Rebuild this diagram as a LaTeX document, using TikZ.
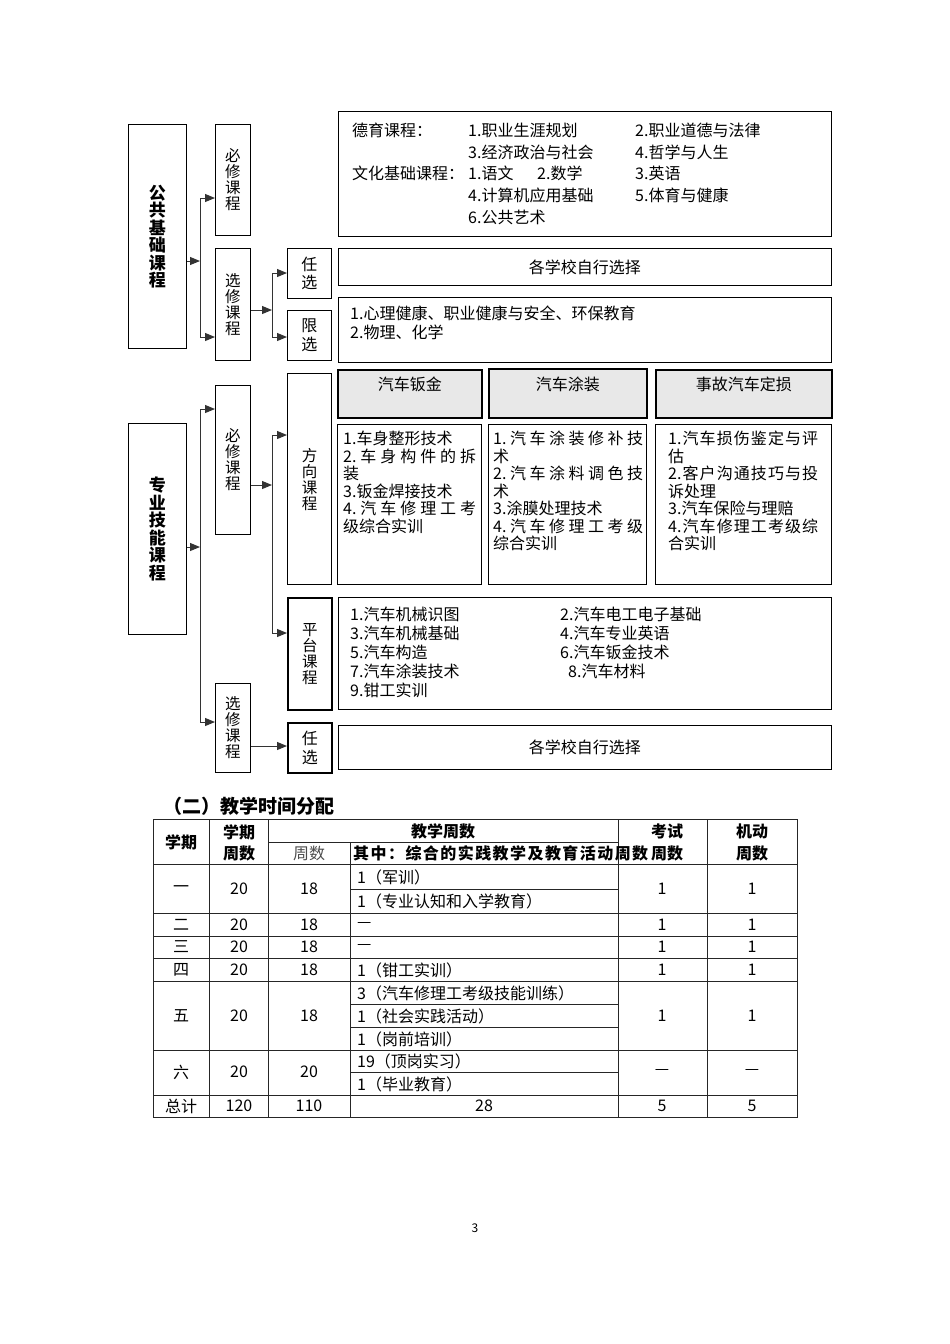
\documentclass[tikz,border=0pt]{standalone}
\usepackage{fontspec}
\setmainfont{Noto Sans CJK SC}
\usetikzlibrary{arrows.meta}
\XeTeXlinebreaklocale "zh"
\XeTeXlinebreakskip=0pt plus 2pt

\tikzset{
  box/.style={draw, line width=0.9pt, inner sep=0pt, anchor=north west},
  vbox/.style={box, align=center, font=\fontsize{15.5}{16}\selectfont},
  tbox/.style={box, font=\fontsize{16}{17}\selectfont},
  hdr/.style={box, fill=gray!18, line width=1.5pt, font=\fontsize{16}{17}\selectfont,
    text height=11pt, text depth=17pt},
  txt/.style={anchor=west, inner sep=0pt, font=\fontsize{16}{17}\selectfont},
  para/.style={anchor=north west, inner sep=0pt, align=justify,
    font=\fontsize{16}{17.5}\selectfont},
  arr/.style={-{Triangle[length=10pt,width=8pt]}, line width=1pt, draw=black!80},
  conn/.style={line width=1pt, draw=black!80},
  tline/.style={line width=0.9pt, draw=black!85},
  cell/.style={inner sep=0pt, font=\fontsize{16}{17}\selectfont},
  hcell/.style={cell, font=\fontsize{16}{17}\selectfont\bfseries}
}

\begin{document}
\begin{tikzpicture}[x=1pt,y=-1pt]
\useasboundingbox (0,0) rectangle (950,1344);

% public basic courses
\node[vbox, minimum width=58, minimum height=224, font=\fontsize{17}{17.5}\selectfont\bfseries] (ggjc) at (128,124) {公\\共\\基\\础\\课\\程};
\node[vbox, minimum width=35, minimum height=111] (bx1) at (215,124) {必\\修\\课\\程};
\node[vbox, minimum width=35, minimum height=112] (xx1) at (215,248) {选\\修\\课\\程};
\node[vbox, minimum width=44, minimum height=50, font=\fontsize{16}{18.5}\selectfont] (rx1) at (287,248) {任\\选};
\node[vbox, minimum width=44, minimum height=50, font=\fontsize{16}{18.5}\selectfont] (lx1) at (287,310) {限\\选};

\node[box, minimum width=493, minimum height=125] (bxc) at (338,111) {};
\node[txt] (dy1) at (352,130) {\makebox[116pt][l]{德育课程：}\makebox[167pt][l]{1.职业生涯规划}2.职业道德与法律};
\node[txt] (dy2) at (468,152) {\makebox[167pt][l]{3.经济政治与社会}4.哲学与人生};
\node[txt] (wh1) at (352,173) {\makebox[116pt][l]{文化基础课程：}\makebox[69pt][l]{1.语文}\makebox[98pt][l]{2.数学}3.英语};
\node[txt] (wh2) at (468,195) {\makebox[167pt][l]{4.计算机应用基础}5.体育与健康};
\node[txt] (wh3) at (468,217) {6.公共艺术};

\node[tbox, minimum width=493, minimum height=37] (rxc1) at (338,248) {各学校自行选择};
\node[box, minimum width=493, minimum height=65] (lxc) at (338,297) {};
\node[txt] (lx1t) at (350,313) {1.心理健康、职业健康与安全、环保教育};
\node[txt] (lx2t) at (350,332) {2.物理、化学};

\coordinate (v1a) at (200,198);
\coordinate (v1b) at (200,337);
\coordinate (v1m) at (200,261);
\draw[arr] (ggjc.east |- v1m) -- (v1m);
\draw[conn] (v1a) -- (v1b);
\draw[arr] (v1a) -- (bx1.west |- v1a);
\draw[arr] (v1b) -- (xx1.west |- v1b);

\coordinate (v2a) at (272,273);
\coordinate (v2b) at (272,337);
\coordinate (v2m) at (272,310);
\draw[arr] (xx1.east |- v2m) -- (v2m);
\draw[conn] (v2a) -- (v2b);
\draw[arr] (v2a) -- (rx1.west |- v2a);
\draw[arr] (v2b) -- (lx1.west |- v2b);

% professional courses
\node[vbox, minimum width=58, minimum height=211, font=\fontsize{17}{17.5}\selectfont\bfseries] (zyjn) at (128,423) {专\\业\\技\\能\\课\\程};
\node[vbox, minimum width=35, minimum height=149] (bx2) at (215,385) {必\\修\\课\\程};
\node[vbox, minimum width=35, minimum height=89] (xx2) at (215,683) {选\\修\\课\\程};
\node[vbox, line width=1.4pt, minimum width=44, minimum height=211] (fx) at (287,373) {方\\向\\课\\程};
\node[vbox, line width=1.6pt, minimum width=44, minimum height=112] (pt) at (287,597) {平\\台\\课\\程};
\node[vbox, line width=1.6pt, minimum width=44, minimum height=50, font=\fontsize{16}{18.5}\selectfont] (rx2) at (287,722) {任\\选};

\node[hdr, minimum width=144, minimum height=48] (h1) at (337,369) {汽车钣金};
\node[hdr, minimum width=158, minimum height=49] (h2) at (488,368) {汽车涂装};
\node[hdr, minimum width=176, minimum height=48] (h3) at (655,369) {事故汽车定损};

\node[box, minimum width=144, minimum height=160] (c1) at (337,424) {};
\node[box, minimum width=158, minimum height=160] (c2) at (488,424) {};
\node[box, minimum width=176, minimum height=160] (c3) at (655,424) {};
\node[para, text width=133pt] (c1t) at (343,431) {1.车身整形技术\\2.车身构件的拆\linebreak 装\\3.钣金焊接技术\\4.汽车修理工考\linebreak 级综合实训};
\node[para, text width=150pt] (c2t) at (493,431) {1.汽车涂装修补技\linebreak 术\\2.汽车涂料调色技\linebreak 术\\3.涂膜处理技术\\4.汽车修理工考级\linebreak 综合实训};
\node[para, text width=150pt] (c3t) at (668,431) {1.汽车损伤鉴定与评\linebreak 估\\2.客户沟通技巧与投\linebreak 诉处理\\3.汽车保险与理赔\\4.汽车修理工考级综\linebreak 合实训};

\node[box, minimum width=493, minimum height=112] (ptc) at (338,597) {};
\node[txt] (pt1) at (350,614) {\makebox[210pt][l]{1.汽车机械识图}2.汽车电工电子基础};
\node[txt] (pt2) at (350,633) {\makebox[210pt][l]{3.汽车机械基础}4.汽车专业英语};
\node[txt] (pt3) at (350,652) {\makebox[210pt][l]{5.汽车构造}6.汽车钣金技术};
\node[txt] (pt4) at (350,671) {\makebox[218pt][l]{7.汽车涂装技术}8.汽车材料};
\node[txt] (pt5) at (350,690) {9.钳工实训};

\node[tbox, minimum width=493, minimum height=44] (rxc2) at (338,725) {各学校自行选择};

\coordinate (v3a) at (200,409);
\coordinate (v3b) at (200,722);
\coordinate (v3m) at (200,547);
\draw[arr] (zyjn.east |- v3m) -- (v3m);
\draw[conn] (v3a) -- (v3b);
\draw[arr] (v3a) -- (bx2.west |- v3a);
\draw[arr] (v3b) -- (xx2.west |- v3b);

\coordinate (v4a) at (272,435);
\coordinate (v4b) at (272,633);
\coordinate (v4m) at (272,485);
\draw[arr] (bx2.east |- v4m) -- (v4m);
\draw[conn] (v4a) -- (v4b);
\draw[arr] (v4a) -- (fx.west |- v4a);
\draw[arr] (v4b) -- (pt.west |- v4b);
\draw[arr] (xx2.east |- 0,746) -- (rx2.west |- 0,746);

% teaching time table
\node[anchor=west, inner sep=0pt, font=\fontsize{19}{21}\selectfont\bfseries] (title) at (163,806) {（二）教学时间分配};

\draw[tline] (153,819) rectangle (797,1117);
\foreach \x in {209,268,618,707} \draw[tline] (\x,819) -- (\x,1117);
\draw[tline] (350,842) -- (350,1117);
\draw[tline] (268,842) -- (618,842);
\foreach \y in {864,913,936,958,981,1050,1095} \draw[tline] (153,\y) -- (797,\y);
\foreach \y in {889,1004,1027,1072} \draw[tline] (350,\y) -- (618,\y);

\node[hcell] (hxq) at (181,842) {学期};
\node[hcell] (hxz1) at (239,832) {学期};
\node[hcell] (hxz2) at (239,853) {周数};
\node[hcell] (hjx) at (443,831) {教学周数};
\node[cell, text=black!70] (hzs) at (309,853) {周数};
\node[hcell, anchor=west, font=\fontsize{16}{17}\selectfont\bfseries\addfontfeature{LetterSpace=9}] (hqz) at (353,853) {其中：综合的实践教学及教育活动周数};
\node[hcell] (hks1) at (667,831) {考试};
\node[hcell] (hks2) at (667,853) {周数};
\node[hcell] (hjd1) at (752,831) {机动};
\node[hcell] (hjd2) at (752,853) {周数};

\node[cell] (r1a) at (181,889) {一};
\node[cell] (r1b) at (239,889) {20};
\node[cell] (r1c) at (309,889) {18};
\node[cell, anchor=west] (r1d) at (357,877) {1（军训）};
\node[cell, anchor=west] (r1e) at (357,901) {1（专业认知和入学教育）};
\node[cell] (r1f) at (662,889) {1};
\node[cell] (r1g) at (752,889) {1};

\foreach \n/\y/\t in {二/925/—, 三/947/—, 四/970/1（钳工实训）} {
  \node[cell] (ra\y) at (181,\y) {\n};
  \node[cell] (rb\y) at (239,\y) {20};
  \node[cell] (rc\y) at (309,\y) {18};
  \node[cell, anchor=west] (rd\y) at (357,\y) {\t};
  \node[cell] (rf\y) at (662,\y) {1};
  \node[cell] (rg\y) at (752,\y) {1};
}

\node[cell] (r5a) at (181,1016) {五};
\node[cell] (r5b) at (239,1016) {20};
\node[cell] (r5c) at (309,1016) {18};
\node[cell, anchor=west] (r5d) at (357,993) {3（汽车修理工考级技能训练）};
\node[cell, anchor=west] (r5e) at (357,1016) {1（社会实践活动）};
\node[cell, anchor=west] (r5h) at (357,1039) {1（岗前培训）};
\node[cell] (r5f) at (662,1016) {1};
\node[cell] (r5g) at (752,1016) {1};

\node[cell] (r6a) at (181,1072) {六};
\node[cell] (r6b) at (239,1072) {20};
\node[cell] (r6c) at (309,1072) {20};
\node[cell, anchor=west] (r6d) at (357,1061) {19（顶岗实习）};
\node[cell, anchor=west] (r6e) at (357,1084) {1（毕业教育）};
\node[cell] (r6f) at (662,1072) {—};
\node[cell] (r6g) at (752,1072) {—};

\node[cell] (r7a) at (181,1106) {总计};
\node[cell] (r7b) at (239,1106) {120};
\node[cell] (r7c) at (309,1106) {110};
\node[cell] (r7d) at (484,1106) {28};
\node[cell] (r7f) at (662,1106) {5};
\node[cell] (r7g) at (752,1106) {5};

\node[inner sep=0pt, font=\fontsize{12}{14}\selectfont] (pg) at (475,1228) {3};
\end{tikzpicture}
\end{document}
